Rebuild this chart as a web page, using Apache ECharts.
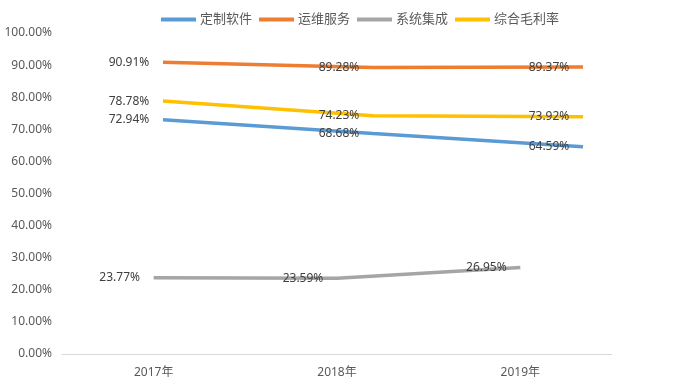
<!DOCTYPE html>
<html><head><meta charset="utf-8">
<script src="https://cdn.jsdelivr.net/npm/echarts@6/dist/echarts.min.js"></script>
<style>html,body{margin:0;padding:0;background:#fff}#c{width:700px;height:391px}</style>
</head><body><div id="c"></div>
<script>
var categories = ['2017年', '2018年', '2019年'];
var seriesNames = ['定制软件', '运维服务', '系统集成', '综合毛利率'];
var software = [72.94, 68.68, 64.59];
var maintenance = [90.91, 89.28, 89.37];
var integration = [23.77, 23.59, 26.95];
var overall = [78.78, 74.23, 73.92];
var yTicks = [0, 10, 20, 30, 40, 50, 60, 70, 80, 90, 100];

var colors = ['#5b9bd5', '#ed7d31', '#a5a5a5', '#ffc000'];
var font = 'Noto Sans, Noto Sans CJK SC, sans-serif';

function mk(name, data, color, idx) {
  return {
    name: name, type: 'line', data: data, xAxisIndex: idx, yAxisIndex: idx,
    symbol: 'circle', symbolSize: 0.1, smooth: false,
    lineStyle: { color: color, width: 3.5 },
    itemStyle: { color: color },
    label: {
      show: true, position: 'inside', offset: [-34, 0],
      color: '#404040', fontSize: 12, fontFamily: font,
      formatter: function (p) { return p.value.toFixed(2) + '%'; }
    },
    z: idx === 0 ? 2 : 3
  };
}

var chart = echarts.init(document.getElementById('c'), null, { renderer: 'canvas' });
chart.setOption({
  animation: false,
  textStyle: { fontFamily: font },
  legend: {
    top: 8, left: 156, icon: 'rect', itemWidth: 35, itemHeight: 4, itemGap: 7,
    textStyle: { color: '#595959', fontSize: 13, fontFamily: font, padding: [0, 0, 0, -1] },
    data: seriesNames
  },
  grid: [
    { left: 62, right: 88, top: 33, bottom: 37 },
    { left: 58, right: 12, top: 33, bottom: 37 }
  ],
  xAxis: [
    { type: 'category', data: categories, gridIndex: 0,
      axisLine: { lineStyle: { color: '#d9d9d9', width: 1 } },
      axisTick: { show: false },
      axisLabel: { color: '#595959', fontSize: 12, margin: 13, fontFamily: font } },
    { type: 'category', data: categories, gridIndex: 1, show: false }
  ],
  yAxis: [
    { type: 'value', gridIndex: 0, min: yTicks[0], max: yTicks[yTicks.length - 1], interval: 10,
      axisLine: { show: false }, axisTick: { show: false }, splitLine: { show: false },
      axisLabel: { color: '#595959', fontSize: 12, margin: 10, fontFamily: font,
        formatter: function (v) { return v.toFixed(2) + '%'; } } },
    { type: 'value', gridIndex: 1, min: yTicks[0], max: yTicks[yTicks.length - 1], show: false }
  ],
  series: [
    mk(seriesNames[0], software, colors[0], 1),
    mk(seriesNames[1], maintenance, colors[1], 1),
    mk(seriesNames[2], integration, colors[2], 0),
    mk(seriesNames[3], overall, colors[3], 1)
  ]
});
</script></body></html>
